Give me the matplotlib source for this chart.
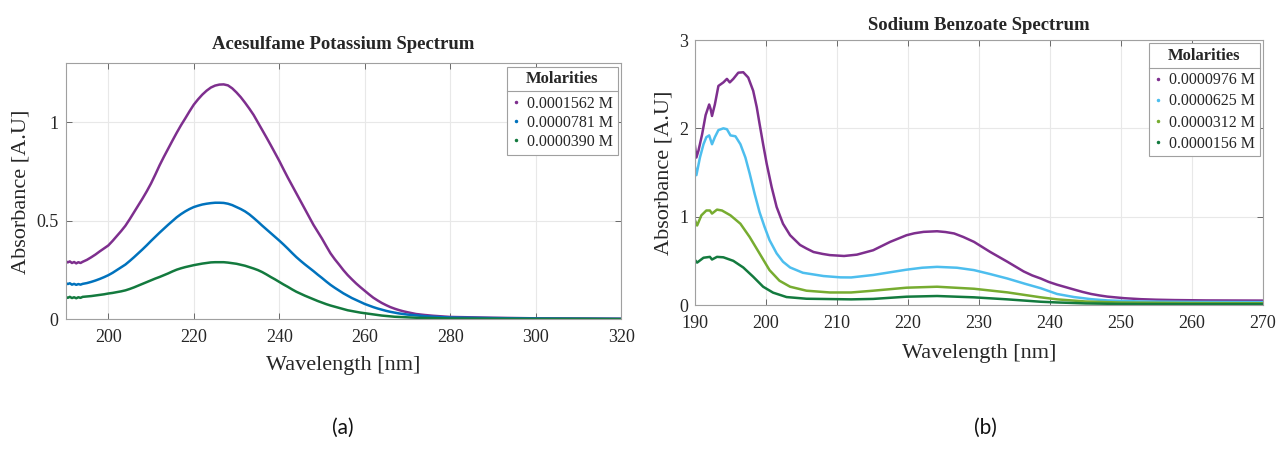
import matplotlib
matplotlib.use("Agg")
import matplotlib.pyplot as plt
from matplotlib.lines import Line2D

# ---------------- Acesulfame potassium spectra ----------------
ace_wl = [190, 190.5, 191, 191.5, 192, 192.5, 193, 193.5,
          194, 195, 196, 197, 198, 199, 200, 201, 202, 203, 204, 205, 206, 207, 208, 209,
          210, 211, 212, 213, 214, 215, 216, 217, 218, 219, 220, 221, 222, 223, 224, 225,
          226, 227, 228, 229, 230, 231, 232, 233, 234, 235, 236, 237, 238, 239, 240, 241,
          242, 243, 244, 245, 246, 247, 248, 249, 250, 251, 252, 253, 254, 255, 256, 257,
          258, 259, 260, 261, 262, 263, 264, 265, 266, 267, 268, 269, 270,
          272, 274, 276, 278, 280, 290, 300, 310, 320]
ace_hi = [0.296, 0.289, 0.294, 0.286, 0.291, 0.284, 0.290, 0.286,
          0.292, 0.302, 0.315, 0.329, 0.345, 0.360, 0.375, 0.398, 0.423, 0.448, 0.475,
          0.508, 0.543, 0.578, 0.613, 0.650, 0.690, 0.735, 0.782, 0.825, 0.866, 0.907,
          0.947, 0.985, 1.020, 1.056, 1.090, 1.117, 1.141, 1.161, 1.177, 1.187, 1.192,
          1.193, 1.188, 1.173, 1.152, 1.128, 1.100, 1.070, 1.038, 1.000, 0.962, 0.924,
          0.885, 0.845, 0.805, 0.762, 0.720, 0.680, 0.640, 0.600, 0.560, 0.520, 0.480,
          0.445, 0.410, 0.372, 0.335, 0.305, 0.278, 0.250, 0.225, 0.203, 0.182, 0.163,
          0.145, 0.127, 0.110, 0.096, 0.083, 0.072, 0.062, 0.054, 0.047, 0.041, 0.036,
          0.027, 0.022, 0.018, 0.015, 0.012, 0.008, 0.005, 0.004, 0.003]
ace_mid = [0.185, 0.179, 0.183, 0.176, 0.180, 0.175, 0.179, 0.176,
           0.180, 0.184, 0.190, 0.197, 0.205, 0.214, 0.224, 0.236, 0.250, 0.264, 0.278,
           0.296, 0.315, 0.335, 0.355, 0.376, 0.398, 0.419, 0.440, 0.460, 0.480, 0.499,
           0.518, 0.534, 0.548, 0.560, 0.570, 0.577, 0.583, 0.587, 0.590, 0.592, 0.592,
           0.591, 0.587, 0.580, 0.570, 0.560, 0.548, 0.533, 0.515, 0.496, 0.476, 0.457,
           0.438, 0.419, 0.400, 0.380, 0.359, 0.337, 0.316, 0.297, 0.279, 0.262, 0.245,
           0.227, 0.210, 0.192, 0.175, 0.160, 0.146, 0.132, 0.120, 0.108, 0.098, 0.088,
           0.078, 0.070, 0.062, 0.055, 0.049, 0.043, 0.038, 0.034, 0.030, 0.027, 0.024,
           0.020, 0.016, 0.013, 0.011, 0.009, 0.006, 0.004, 0.003, 0.002]
ace_lo = [0.115, 0.109, 0.114, 0.108, 0.112, 0.107, 0.112, 0.109,
          0.114, 0.116, 0.118, 0.121, 0.124, 0.127, 0.131, 0.134, 0.138, 0.142, 0.147,
          0.154, 0.162, 0.171, 0.180, 0.189, 0.198, 0.207, 0.215, 0.224, 0.233, 0.243,
          0.252, 0.259, 0.265, 0.270, 0.275, 0.279, 0.283, 0.286, 0.289, 0.290, 0.290,
          0.290, 0.288, 0.285, 0.282, 0.277, 0.272, 0.265, 0.258, 0.250, 0.240, 0.228,
          0.215, 0.203, 0.190, 0.177, 0.165, 0.152, 0.140, 0.130, 0.120, 0.111, 0.102,
          0.093, 0.085, 0.077, 0.070, 0.064, 0.058, 0.052, 0.046, 0.042, 0.038, 0.034,
          0.031, 0.028, 0.025, 0.022, 0.019, 0.017, 0.015, 0.013, 0.012, 0.011, 0.010,
          0.008, 0.007, 0.006, 0.005, 0.004, 0.003, 0.002, 0.002, 0.001]
ace_labels = ["0.0001562 M", "0.0000781 M", "0.0000390 M"]
ace_colors = ["#7E2F8E", "#0072BD", "#137A3E"]

# ---------------- Sodium benzoate spectra ----------------
sb1_wl = [190, 190.2, 190.5, 191, 191.5, 192, 192.2, 192.4, 192.8, 193.3, 194, 194.5,
          194.9, 195.4, 196.1, 196.8, 197.5, 198.2, 198.7, 199.1, 199.6, 200.1, 200.8,
          201.5, 202.4, 203.4, 204.8, 205.7, 206.7, 208, 209, 211, 212.8, 215.1, 217.5,
          219.8, 220.9, 222.2, 224.1, 225.3, 226.5, 227.8, 229.3, 231.6, 232.8, 234,
          236.3, 237.5, 238.7, 239.8, 241, 243.4, 244.6, 245.8, 247, 248.1, 250.5, 252.8,
          255, 257.5, 262, 270]
sb1_val = [1.80, 1.67, 1.75, 1.93, 2.15, 2.27, 2.22, 2.14, 2.27, 2.48, 2.52, 2.56, 2.52,
           2.56, 2.63, 2.635, 2.575, 2.425, 2.24, 2.05, 1.82, 1.60, 1.335, 1.11, 0.92,
           0.79, 0.68, 0.64, 0.60, 0.578, 0.565, 0.555, 0.57, 0.62, 0.715, 0.79, 0.812,
           0.828, 0.835, 0.826, 0.81, 0.77, 0.715, 0.60, 0.545, 0.49, 0.38, 0.335, 0.30,
           0.262, 0.23, 0.175, 0.148, 0.125, 0.108, 0.095, 0.077, 0.066, 0.060, 0.056,
           0.052, 0.050]

sb2_wl = [190, 190.2, 190.7, 191.2, 191.6, 192, 192.4, 192.8, 193.3, 194, 194.5, 195,
          195.7, 196.4, 197.1, 197.7, 198.4, 199.1, 199.8, 200.5, 201.5, 202.4, 203.4,
          205.2, 208.1, 210.5, 212, 215.1, 219.8, 222, 224.1, 226.9, 229.3, 231.5, 234,
          236.5, 238.7, 241, 243.4, 245.8, 248.1, 252.8, 260, 270]
sb2_val = [1.56, 1.47, 1.67, 1.82, 1.90, 1.92, 1.82, 1.90, 1.98, 2.00, 1.99, 1.92, 1.91,
           1.82, 1.67, 1.49, 1.26, 1.05, 0.885, 0.735, 0.585, 0.49, 0.425, 0.365, 0.328,
           0.313, 0.312, 0.34, 0.40, 0.422, 0.432, 0.422, 0.395, 0.352, 0.30, 0.24,
           0.19, 0.125, 0.09, 0.066, 0.052, 0.040, 0.035, 0.033]

sb3_wl = [190, 190.3, 190.9, 191.6, 192.1, 192.4, 193.1, 193.8, 195, 196.4, 197.7, 199.1,
          200.5, 201.9, 203.4, 205.7, 209, 212, 215.1, 219.8, 224.1, 229.3, 234, 238.7,
          241, 245, 250, 260, 270]
sb3_val = [0.96, 0.90, 1.015, 1.07, 1.07, 1.035, 1.08, 1.07, 1.015, 0.92, 0.77, 0.583,
           0.395, 0.275, 0.207, 0.162, 0.142, 0.142, 0.162, 0.196, 0.207, 0.184, 0.143,
           0.087, 0.064, 0.040, 0.028, 0.022, 0.020]

sb4_wl = [190, 190.3, 191.2, 192.1, 192.4, 193.1, 194, 195.4, 196.8, 198.2, 199.6, 201,
          202.9, 205.7, 212, 215.1, 219.8, 224.1, 229.3, 234, 238.7, 241, 245, 250, 260,
          270]
sb4_val = [0.51, 0.48, 0.535, 0.545, 0.515, 0.545, 0.54, 0.50, 0.425, 0.32, 0.207, 0.14,
           0.09, 0.071, 0.064, 0.069, 0.094, 0.102, 0.087, 0.064, 0.037, 0.029, 0.018,
           0.012, 0.010, 0.010]

sb_labels = ["0.0000976 M", "0.0000625 M", "0.0000312 M", "0.0000156 M"]
sb_colors = ["#7E2F8E", "#4DBEEE", "#77AC30", "#137A3E"]

SERIF = ["Liberation Serif", "DejaVu Serif"]
TXT = "#262626"

fig = plt.figure(figsize=(12.78, 4.51), dpi=100)
ax1 = fig.add_axes([0.0513, 0.292, 0.4347, 0.5676])
ax2 = fig.add_axes([0.5438, 0.3237, 0.4444, 0.5876])


def style_axes(ax, title, xticks, yticks, yticklabels, xlim, ylim, title_pad, xlpad):
    ax.set_xlim(*xlim)
    ax.set_ylim(*ylim)
    ax.set_xticks(xticks)
    ax.set_yticks(yticks)
    ax.set_yticklabels(yticklabels)
    for lab in ax.get_xticklabels() + ax.get_yticklabels():
        lab.set_fontfamily(SERIF)
        lab.set_fontsize(13)
        lab.set_color(TXT)
    ax.tick_params(direction="in", length=4, width=0.6, color="#555555",
                   top=True, right=True)
    ax.tick_params(axis="x", pad=7)
    ax.tick_params(axis="y", pad=5)
    ax.grid(True, color="#e8e8e8", linewidth=0.8)
    ax.set_axisbelow(True)
    for s in ax.spines.values():
        s.set_color("#a0a0a0")
        s.set_linewidth(0.8)
    ax.set_title(title, fontfamily=SERIF, fontweight="bold", fontsize=13.5,
                 color=TXT, pad=title_pad)
    ax.set_xlabel("Wavelength [nm]", fontfamily=SERIF, fontsize=16, color=TXT,
                  labelpad=xlpad)
    ax.set_ylabel("Absorbance [A.U]", fontfamily=SERIF, fontsize=16, color=TXT,
                  labelpad=4)


def add_legend(ax, labels, colors, spacing):
    handles = [Line2D([], [], linestyle="none", marker=".", markersize=3,
                      color=c) for c in colors]
    leg = ax.legend(handles, labels, title="Molarities", loc="upper right",
                    frameon=True, fancybox=False, framealpha=1,
                    edgecolor="#a0a0a0", borderaxespad=0.2, handlelength=0.5,
                    handletextpad=0.45, borderpad=0.3, labelspacing=spacing,
                    prop={"family": SERIF, "size": 11.5})
    leg.get_frame().set_linewidth(0.8)
    leg.get_title().set_fontfamily(SERIF)
    leg.get_title().set_fontweight("bold")
    leg.get_title().set_fontsize(12)
    leg.get_title().set_color(TXT)
    for t in leg.get_texts():
        t.set_color(TXT)
    # extra room between the title row and the entries
    leg._legend_box.sep = 6
    return leg


for y, c in zip([ace_hi, ace_mid, ace_lo], ace_colors):
    ax1.plot(ace_wl, y, color=c, linewidth=1.8, solid_joinstyle="round")
style_axes(ax1, "Acesulfame Potassium Spectrum", [200, 220, 240, 260, 280, 300, 320],
           [0, 0.5, 1], ["0", "0.5", "1"], (190, 320), (0, 1.3), 10, 7)
leg1 = add_legend(ax1, ace_labels, ace_colors, 0.2)

for (wl, y), c in zip([(sb1_wl, sb1_val), (sb2_wl, sb2_val), (sb3_wl, sb3_val),
                       (sb4_wl, sb4_val)], sb_colors):
    ax2.plot(wl, y, color=c, linewidth=1.8, solid_joinstyle="round")
style_axes(ax2, "Sodium Benzoate Spectrum", [190, 200, 210, 220, 230, 240, 250, 260, 270],
           [0, 1, 2, 3], ["0", "1", "2", "3"], (190, 270), (0, 3), 7, 9)
leg2 = add_legend(ax2, sb_labels, sb_colors, 0.32)

# rule under the legend title, spanning the legend box
fig.canvas.draw()
inv = fig.transFigure.inverted()
for leg in (leg1, leg2):
    lb = leg.get_window_extent()
    tb = leg.get_title().get_window_extent()
    eb = leg.get_texts()[0].get_window_extent()
    ysep = 0.5 * (tb.y0 + eb.y1)
    (x0, yy), (x1, _) = inv.transform([(lb.x0, ysep), (lb.x1, ysep)])
    fig.add_artist(Line2D([x0, x1], [yy, yy], color="#a0a0a0", linewidth=0.8))

fig.text(0.2685, 0.03, "(a)", ha="center", va="bottom", fontfamily=["Lato", "DejaVu Sans"],
         fontsize=15, color="#111111")
fig.text(0.771, 0.03, "(b)", ha="center", va="bottom", fontfamily=["Lato", "DejaVu Sans"],
         fontsize=15, color="#111111")

fig.savefig("out.png", dpi=100, facecolor="white")
